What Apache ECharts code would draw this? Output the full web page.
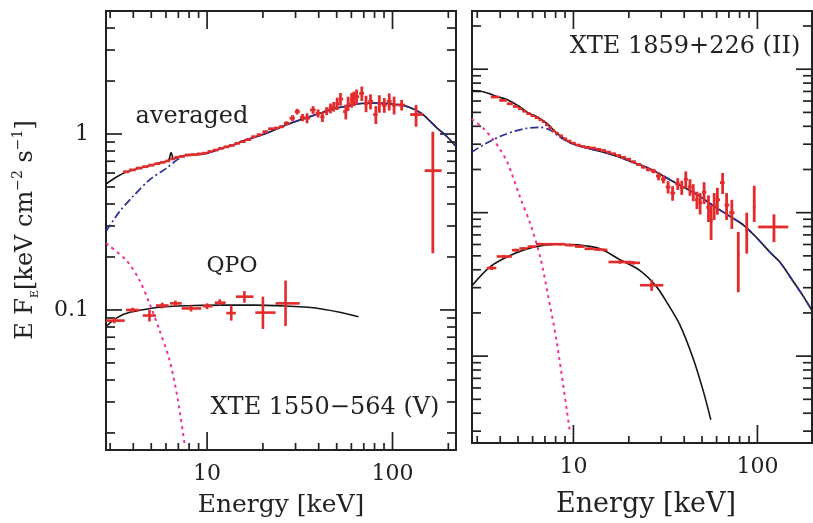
<!DOCTYPE html>
<html>
<head>
<meta charset="utf-8">
<script src="https://cdn.jsdelivr.net/npm/echarts@6/dist/echarts.min.js"></script>
<style>
  html, body { margin: 0; padding: 0; background: #fff; }
  #chart { width: 813px; height: 523px; }
</style>
</head>
<body>
<div id="chart"></div>
<script>
// ---------- XTE 1550-564 (V) : averaged spectrum [E, EF_E, error] ----------
const avgDense = [
  [3.66,0.610,0.005],[3.95,0.625,0.005],[4.30,0.640,0.005],[4.65,0.652,0.005],[5.00,0.665,0.005],
  [5.40,0.678,0.005],[5.80,0.690,0.005],[6.15,0.703,0.006],[6.50,0.722,0.006],[6.85,0.737,0.006],
  [7.30,0.746,0.006],[7.90,0.760,0.006],[8.50,0.763,0.006],[9.10,0.770,0.006],[9.70,0.778,0.006],
  [10.4,0.795,0.006],[11.1,0.810,0.007],[11.9,0.829,0.007],[12.7,0.845,0.007],[13.6,0.862,0.007],
  [14.6,0.885,0.008],[15.6,0.905,0.008],[16.7,0.930,0.009],[17.9,0.965,0.010],[19.2,0.990,0.012],
  [20.6,1.030,0.014],[22.1,1.070,0.015],[23.6,1.080,0.018],[25.2,1.100,0.020],[26.8,1.150,0.030],
  [28.9,1.23,0.05],[30.6,1.34,0.05],[32.7,1.24,0.06],[34.6,1.23,0.08],[37.3,1.37,0.07],
  [39.7,1.31,0.07],[41.9,1.25,0.08],[44.1,1.35,0.07],[46.3,1.40,0.09],[48.2,1.43,0.09],
  [50.3,1.49,0.12],[52.4,1.58,0.13],[56.0,1.34,0.13],[57.6,1.49,0.14],[60.2,1.56,0.15],
  [61.9,1.59,0.15],[64.0,1.63,0.16],[68.3,1.70,0.16],[72.0,1.49,0.16],[76.1,1.53,0.15],
  [81.3,1.29,0.15],[84.9,1.49,0.17],[90.3,1.46,0.14],[96.0,1.53,0.17],[102,1.46,0.17]
];
// wide bins: [E, Elo, Ehi, F, Flo, Fhi]
const avgWide = [
  [112,107,117,1.46,1.36,1.56],
  [134,124.5,146,1.29,1.10,1.46],
  [165,149,184,0.619,0.21,1.03]
];
// QPO spectrum: [E, Elo, Ehi, F, Flo, Fhi]
const qpoLeft = [
  [3.16,2.85,3.60,0.087,0.084,0.090],
  [3.97,3.66,4.31,0.100,0.097,0.103],
  [4.89,4.50,5.30,0.093,0.086,0.100],
  [5.73,5.30,6.20,0.106,0.102,0.110],
  [6.75,6.30,7.30,0.109,0.105,0.113],
  [8.20,7.30,9.30,0.102,0.098,0.106],
  [10.0,9.50,10.7,0.105,0.101,0.109],
  [11.7,11.0,12.6,0.110,0.106,0.115],
  [13.5,12.7,14.3,0.096,0.087,0.106],
  [15.9,14.3,17.8,0.119,0.110,0.128],
  [20.0,18.2,23.4,0.0966,0.078,0.119],
  [26.5,23.4,31.6,0.109,0.081,0.147]
];
// model curves [E, EF_E]
const avgModelLeft = [
  [2.85,0.520],[3.3,0.575],[3.66,0.608],[4.3,0.638],[5.0,0.665],[5.9,0.698],[6.2,0.708],
  [6.4,0.785],[6.6,0.722],[7.0,0.740],[7.7,0.758],[9.1,0.766],[10.1,0.780],[12.0,0.830],
  [13.8,0.866],[16.0,0.920],[20.9,1.010],[25.2,1.100],[31.6,1.200],[38.9,1.290],[47.0,1.380],
  [56.5,1.440],[67.5,1.490],[85.7,1.500],[100,1.480],[112,1.460],[127,1.400],[146,1.290],
  [174,1.080],[197,0.965],[220,0.850]
];
const contModelLeft = [
  [2.85,0.280],[3.37,0.362],[3.97,0.440],[4.89,0.548],[6.02,0.638],[7.1,0.727],[8.4,0.767],
  [10.1,0.780],[12.0,0.830],[13.8,0.866],[16.0,0.920],[20.9,1.010],[25.2,1.100],[31.6,1.200],
  [38.9,1.290],[47.0,1.380],[56.5,1.440],[67.5,1.490],[85.7,1.500],[100,1.480],[112,1.460],
  [127,1.400],[146,1.290],[174,1.080],[197,0.965],[220,0.850]
];
const diskModelLeft = [
  [2.85,0.239],[3.66,0.192],[4.31,0.148],[4.89,0.109],[5.53,0.077],[6.27,0.052],[6.95,0.031],[7.55,0.0175]
];
const qpoModelLeft = [
  [2.85,0.0805],[3.1,0.087],[3.5,0.094],[4.0,0.098],[4.69,0.101],[5.5,0.1035],[6.53,0.105],
  [8.5,0.106],[12.2,0.1065],[18,0.1065],[27.9,0.105],[35,0.1035],[42.3,0.101],[52,0.097],[65.5,0.0916]
];

// ---------- XTE 1859+226 (II) ----------
const avgDenseRight = [
  [3.75,0.640,0.006],[4.17,0.606,0.006],[4.53,0.575,0.006],[4.85,0.550,0.006],[5.13,0.531,0.006],
  [5.40,0.510,0.006],[5.69,0.490,0.006],[6.00,0.475,0.005],[6.33,0.459,0.005],[6.60,0.445,0.005],
  [6.87,0.431,0.005],[7.15,0.410,0.005],[7.46,0.391,0.005],[7.80,0.372,0.004],[8.12,0.358,0.004],
  [8.55,0.343,0.004],[9.00,0.327,0.004],[9.50,0.315,0.004],[10.0,0.305,0.004],[10.6,0.296,0.004],
  [11.3,0.289,0.004],[12.0,0.285,0.004],[12.8,0.282,0.004],[13.7,0.276,0.004],[14.6,0.271,0.004],
  [15.5,0.264,0.004],[16.5,0.257,0.004],[17.6,0.250,0.004],[18.7,0.243,0.004],[19.9,0.236,0.004],
  [21.2,0.226,0.005],[22.6,0.217,0.005],[24.0,0.208,0.005],[25.5,0.200,0.006],[27.2,0.195,0.007],
  [29.0,0.180,0.012],[30.8,0.171,0.011],[32.7,0.151,0.015],[34.6,0.137,0.016],[36.9,0.159,0.015],
  [38.8,0.150,0.017],[40.8,0.171,0.023],[43.0,0.151,0.020],[44.8,0.139,0.019],[46.9,0.123,0.017],
  [48.8,0.117,0.020],[51.3,0.139,0.024],[54.2,0.109,0.023],[56.0,0.0885,0.024],[58.2,0.113,0.024],
  [60.6,0.123,0.026],[64.7,0.162,0.027],[68.0,0.113,0.024],[72.6,0.100,0.023]
];
const avgWideRight = [
  [78.7,77.5,80.0,0.0513,0.0279,0.0734],
  [87.5,86.0,89.0,0.0755,0.0518,0.100],
  [96.1,94.5,97.7,0.109,0.0862,0.154],
  [123,101,147,0.0795,0.0623,0.0974]
];
const qpoRight = [
  [3.59,3.38,3.81,0.0411,0.0398,0.0424],
  [4.17,3.83,4.63,0.0495,0.0482,0.0508],
  [4.83,4.63,5.08,0.0548,0.0536,0.0560],
  [5.35,5.08,5.63,0.0563,0.0551,0.0575],
  [5.94,5.63,6.26,0.0580,0.0568,0.0592],
  [6.60,6.26,6.98,0.0603,0.0591,0.0615],
  [7.46,6.98,7.95,0.0603,0.0591,0.0615],
  [8.46,7.95,9.00,0.0603,0.0591,0.0615],
  [9.60,9.00,10.2,0.0594,0.0582,0.0606],
  [10.9,10.2,11.5,0.0580,0.0568,0.0592],
  [12.1,11.5,12.9,0.0560,0.0548,0.0572],
  [13.7,12.9,14.2,0.0554,0.0542,0.0566],
  [14.6,14.2,15.3,0.0550,0.0538,0.0562],
  [17.9,15.5,20.7,0.0453,0.0440,0.0466],
  [21.2,19.5,23.0,0.0447,0.0434,0.0460],
  [26.6,23.0,30.8,0.0312,0.0285,0.0341]
];
const avgModelRight = [
  [2.8,0.710],[3.1,0.705],[3.52,0.673],[3.83,0.645],[4.35,0.615],[5.13,0.545],[5.69,0.495],
  [6.33,0.466],[7.17,0.419],[8.12,0.358],[9.0,0.325],[9.6,0.307],[10.5,0.295],[11.8,0.282],
  [14.6,0.264],[17.9,0.243],[20.3,0.228],[25.5,0.205],[30.8,0.180],[38,0.155],[46.9,0.134],
  [58,0.111],[71.2,0.094],[84,0.082],[100,0.066],[117,0.053],[133,0.045],[157,0.033],[178,0.026],[197,0.021]
];
const contModelRight = [
  [2.8,0.264],[3.24,0.297],[3.7,0.325],[4.17,0.348],[4.8,0.370],[5.58,0.387],[6.6,0.393],
  [7.46,0.377],[8.46,0.335],[9.6,0.307],[10.5,0.295],[11.8,0.282],[14.6,0.264],[17.9,0.243],
  [20.3,0.228],[25.5,0.205],[30.8,0.180],[38,0.155],[46.9,0.134],[58,0.111],[71.2,0.094],
  [84,0.082],[100,0.066],[117,0.053],[133,0.045],[157,0.033],[178,0.026],[197,0.021]
];
const diskModelRight = [
  [2.8,0.450],[3.24,0.387],[3.67,0.322],[3.99,0.277],[4.35,0.228],[4.63,0.186],[5.13,0.128],
  [5.82,0.084],[6.6,0.049],[7.3,0.026],[8.12,0.0125],[9.6,0.00287]
];
const qpoModelRight = [
  [2.8,0.0308],[3.52,0.0419],[4.53,0.0503],[6.06,0.0575],[8.12,0.0603],[10.4,0.0597],
  [13.96,0.056],[17.9,0.047],[23,0.0395],[28,0.031],[32.2,0.0237],[38,0.0164],[44.8,0.0096],
  [50.8,0.0057],[55.8,0.0036]
];

// ---------- axis ranges and tick values ----------
const xRangeLeft = [2.85, 220];
const yRangeLeft = [0.016, 5];
const xRangeRight = [2.81, 198];
const yRangeRight = [0.00248, 2.545];
const xMajorTicks = [10, 100];
const xMinorLeft = [3,4,5,6,7,8,9,20,30,40,50,60,70,80,90,200];
const xMinorRight = [3,4,5,6,7,8,9,20,30,40,50,60,70,80,90];
const yMajorLeft = [0.1, 1];
const yMinorLeft = [0.02,0.03,0.04,0.05,0.06,0.07,0.08,0.09,0.2,0.3,0.4,0.5,0.6,0.7,0.8,0.9,2,3,4];
const yMajorRight = [0.01, 0.1, 1];
const yMinorRight = [0.003,0.004,0.005,0.006,0.007,0.008,0.009,0.02,0.03,0.04,0.05,0.06,0.07,0.08,0.09,
                     0.2,0.3,0.4,0.5,0.6,0.7,0.8,0.9,2];
const xLabelValues = [10, 100];
const yLabelValuesLeft = [0.1, 1];

const RED = '#e42b2b', BLUE = '#2a2f96', MAGENTA = '#f0309a', BLACK = '#151515', INK = '#222';
const FONT = "'DejaVu Serif', 'Liberation Serif', serif";

// bin edges for contiguous spectra: geometric midpoints between neighbouring channels
function binned(rows) {
  return rows.map((r, i) => {
    const prev = i > 0 ? rows[i - 1][0] : r[0] * r[0] / rows[i + 1][0];
    const next = i < rows.length - 1 ? rows[i + 1][0] : r[0] * r[0] / rows[i - 1][0];
    return [r[0], Math.sqrt(prev * r[0]), Math.sqrt(r[0] * next), r[1], r[1] - r[2], r[1] + r[2]];
  });
}

function crossSeries(idx, rows, width) {
  return {
    type: 'custom', xAxisIndex: idx, yAxisIndex: idx, z: 5, silent: true,
    encode: { x: [0, 1, 2], y: [3, 4, 5] },
    data: rows,
    renderItem(params, api) {
      const e = api.value(0), el = api.value(1), eh = api.value(2);
      const f = api.value(3), fl = api.value(4), fh = api.value(5);
      const a = api.coord([el, f]), b = api.coord([eh, f]);
      const c = api.coord([e, fl]), d = api.coord([e, fh]);
      const st = { stroke: RED, lineWidth: width };
      return { type: 'group', children: [
        { type: 'line', shape: { x1: a[0], y1: a[1], x2: b[0], y2: b[1] }, style: st },
        { type: 'line', shape: { x1: c[0], y1: c[1], x2: d[0], y2: d[1] }, style: st }
      ] };
    }
  };
}

function tickSeries(idx, xr, yr, xMaj, xMin, yMaj, yMin) {
  const data = [];
  xMaj.forEach(v => data.push([v, yr[0], 0, 1]));
  xMin.forEach(v => data.push([v, yr[0], 0, 0]));
  yMaj.forEach(v => data.push([xr[0], v, 1, 1]));
  yMin.forEach(v => data.push([xr[0], v, 1, 0]));
  return {
    type: 'custom', xAxisIndex: idx, yAxisIndex: idx, z: 1, silent: true,
    encode: { x: 0, y: 1 },
    data,
    renderItem(params, api) {
      const kind = api.value(2), major = api.value(3);
      const st = { stroke: INK, lineWidth: 1.7 };
      if (kind === 0) {
        const v = api.value(0);
        const b = api.coord([v, yr[0]]), t = api.coord([v, yr[1]]);
        const L = major ? 18 : 7;
        return { type: 'group', children: [
          { type: 'line', shape: { x1: b[0], y1: b[1], x2: b[0], y2: b[1] - L }, style: st },
          { type: 'line', shape: { x1: t[0], y1: t[1], x2: t[0], y2: t[1] + L }, style: st }
        ] };
      }
      const v = api.value(1);
      const l = api.coord([xr[0], v]), r = api.coord([xr[1], v]);
      const L = major ? 16 : 9;
      return { type: 'group', children: [
        { type: 'line', shape: { x1: l[0], y1: l[1], x2: l[0] + L, y2: l[1] }, style: st },
        { type: 'line', shape: { x1: r[0], y1: r[1], x2: r[0] - L, y2: r[1] }, style: st }
      ] };
    }
  };
}

function curve(idx, data, color, type, width, z) {
  return {
    type: 'line', xAxisIndex: idx, yAxisIndex: idx, data, symbol: 'none', smooth: 0.3,
    silent: true, z: z || 2,
    lineStyle: { color, width, type }
  };
}

function labelFor(values) {
  return v => values.some(t => Math.abs(v - t) / t < 1e-6) ? String(v) : '';
}

const tickText = { fontFamily: FONT, fontSize: 22, color: INK };

const chart = echarts.init(document.getElementById('chart'), null, { renderer: 'canvas' });
chart.setOption({
  animation: false,
  backgroundColor: '#fff',
  grid: [
    { left: 106, top: 11, width: 350, height: 439, show: true, borderColor: INK, borderWidth: 2, backgroundColor: 'transparent' },
    { left: 472, top: 11, width: 340, height: 438, show: true, borderColor: INK, borderWidth: 2, backgroundColor: 'transparent' }
  ],
  xAxis: [
    { type: 'log', gridIndex: 0, min: xRangeLeft[0], max: xRangeLeft[1],
      axisLine: { show: false }, axisTick: { show: false }, splitLine: { show: false },
      axisLabel: Object.assign({ margin: 13, formatter: labelFor(xLabelValues), showMinLabel: false, showMaxLabel: false }, tickText),
      name: 'Energy [keV]', nameLocation: 'middle', nameGap: 43,
      nameTextStyle: { fontFamily: FONT, fontSize: 25, color: INK } },
    { type: 'log', gridIndex: 1, min: xRangeRight[0], max: xRangeRight[1],
      axisLine: { show: false }, axisTick: { show: false }, splitLine: { show: false },
      axisLabel: Object.assign({ margin: 13, formatter: labelFor(xLabelValues), showMinLabel: false, showMaxLabel: false }, tickText),
      name: 'Energy [keV]', nameLocation: 'middle', nameGap: 48,
      nameTextStyle: { fontFamily: FONT, fontSize: 27, color: INK, padding: [0, 0, 0, 8] } }
  ],
  yAxis: [
    { type: 'log', gridIndex: 0, min: yRangeLeft[0], max: yRangeLeft[1],
      axisLine: { show: false }, axisTick: { show: false }, splitLine: { show: false },
      axisLabel: Object.assign({ margin: 17, formatter: labelFor(yLabelValuesLeft), showMinLabel: false, showMaxLabel: false }, tickText) },
    { type: 'log', gridIndex: 1, min: yRangeRight[0], max: yRangeRight[1],
      axisLine: { show: false }, axisTick: { show: false }, splitLine: { show: false },
      axisLabel: { show: false } }
  ],
  series: [
    tickSeries(0, xRangeLeft, yRangeLeft, xMajorTicks, xMinorLeft, yMajorLeft, yMinorLeft),
    curve(0, avgModelLeft, BLACK, 'solid', 1.6, 2),
    curve(0, qpoModelLeft, BLACK, 'solid', 1.6, 2),
    curve(0, contModelLeft, BLUE, [8, 3, 2, 3], 1.7, 3),
    curve(0, diskModelLeft, MAGENTA, [3, 4], 2, 3),
    crossSeries(0, binned(avgDense), 2.8),
    crossSeries(0, avgWide, 2.8),
    crossSeries(0, qpoLeft, 2.6),

    tickSeries(1, xRangeRight, yRangeRight, xMajorTicks, xMinorRight, yMajorRight, yMinorRight),
    curve(1, avgModelRight, BLACK, 'solid', 1.6, 2),
    curve(1, qpoModelRight, BLACK, 'solid', 1.6, 2),
    curve(1, contModelRight, BLUE, [8, 3, 2, 3], 1.7, 3),
    curve(1, diskModelRight, MAGENTA, [3, 4], 2, 3),
    crossSeries(1, binned(avgDenseRight), 2.8),
    crossSeries(1, avgWideRight, 2.8),
    crossSeries(1, qpoRight, 2.6)
  ],
  graphic: [
    { type: 'text', x: 26, y: 230, rotation: Math.PI / 2, silent: true,
      style: {
        text: '{m|E F}{s|E}{m|[keV cm}{p|−2}{m| s}{p|−1}{m|]}',
        align: 'center', verticalAlign: 'middle', textAlign: 'center', textVerticalAlign: 'middle',
        fill: INK,
        rich: {
          m: { fontFamily: FONT, fontSize: 24, lineHeight: 30, verticalAlign: 'middle', color: INK },
          s: { fontFamily: FONT, fontSize: 11, lineHeight: 13, verticalAlign: 'bottom', color: INK },
          p: { fontFamily: FONT, fontSize: 14, lineHeight: 14, verticalAlign: 'top', color: INK }
        }
      } },
    { type: 'text', x: 192, y: 117, silent: true,
      style: { text: 'averaged', fontFamily: FONT, fontSize: 24, fill: INK, align: 'center', verticalAlign: 'middle', textAlign: 'center', textVerticalAlign: 'middle' } },
    { type: 'text', x: 232, y: 266, silent: true,
      style: { text: 'QPO', fontFamily: FONT, fontSize: 22, fill: INK, align: 'center', verticalAlign: 'middle', textAlign: 'center', textVerticalAlign: 'middle' } },
    { type: 'text', x: 325, y: 408, silent: true,
      style: { text: 'XTE 1550−564 (V)', fontFamily: FONT, fontSize: 24, fill: INK, align: 'center', verticalAlign: 'middle', textAlign: 'center', textVerticalAlign: 'middle' } },
    { type: 'text', x: 685, y: 47, silent: true,
      style: { text: 'XTE 1859+226 (II)', fontFamily: FONT, fontSize: 24, fill: INK, align: 'center', verticalAlign: 'middle', textAlign: 'center', textVerticalAlign: 'middle' } }
  ]
});
</script>
</body>
</html>
